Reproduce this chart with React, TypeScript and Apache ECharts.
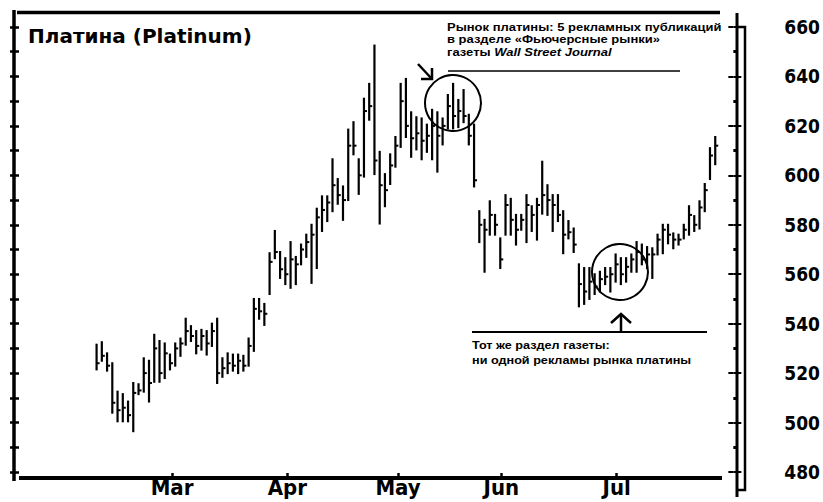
import React, { useEffect, useRef } from "react";
import * as echarts from "echarts";

// Daily platinum bars (trading-day index 0..118), prices in $/oz
const highs = [
  531.5, 532.5, 528, 524, 512.5, 511.5, 508.5, 516, 515.5, 526,
  525, 535.5, 533, 532, 527.5, 532, 534, 542, 539, 537,
  537.5, 537, 540, 542, 526, 528, 527.5, 527.5, 527, 534,
  550, 550, 548, 568.5, 577.5, 569, 566.5, 573, 567, 572,
  576, 580, 586.5, 591.5, 591.5, 606.5, 598.5, 595.5, 618.5, 621.5,
  606.5, 631, 637, 652.5, 609.5, 600.5, 608.5, 615.5, 637, 639,
  625.5, 623.5, 623, 620.5, 626.5, 625.5, 623, 632.5, 637, 630.5,
  634.5, 624.5, 620.5, 585.5, 582, 589.5, 584, 574.5, 592, 590.5,
  584, 584, 592, 587.5, 590.5, 605.5, 596, 592, 592, 585.5,
  581.5, 578.5, 564, 562.5, 562.5, 560, 561, 562.5, 562.5, 568,
  566.5, 566.5, 568, 573, 572, 571, 570.5, 576, 580, 580,
  576.5, 576, 580, 587.5, 583.5, 589.5, 596.5, 611, 615.5,
];
const lows = [
  521.5, 525, 521, 504, 500.5, 500.5, 500.5, 496.5, 511.5, 512.5,
  508.5, 516.5, 516.5, 518, 521.5, 523, 527, 531.5, 533, 528,
  529.5, 527.5, 531, 516, 518.5, 520, 521, 520, 521, 523,
  529, 542, 539.5, 552, 566.5, 558.5, 556, 554.5, 556, 564,
  567, 556.5, 562.5, 577.5, 581.5, 585.5, 588.5, 582, 590, 608.5,
  592.5, 599.5, 622.5, 600.5, 580.5, 587.5, 596.5, 603.5, 611.5, 615.5,
  607.5, 610.5, 606.5, 609.5, 606.5, 601.5, 612.5, 619, 619, 619.5,
  621.5, 612.5, 595.5, 573, 561, 576, 576, 562.5, 576, 576,
  572, 578, 573, 577.5, 574, 584.5, 584, 577.5, 581.5, 568.5,
  574.5, 569, 547, 548, 550, 552, 553, 556, 553, 557,
  556, 557, 561, 561, 564, 562.5, 558.5, 568, 568.5, 572.5,
  570.5, 572, 574.5, 576, 577.5, 578.5, 585.5, 598.5, 604.5,
];
const closes = [
  524, 527, 523, 508, 505, 506, 503, 512, 513, 520,
  516, 530, 520, 528, 524, 530, 532, 537, 535, 531,
  535, 532, 537, 520, 522, 524, 523, 525, 523, 531,
  546, 545, 544, 565, 569, 562, 560, 566, 564, 570,
  573, 576, 583, 586, 589, 596, 592, 590, 612, 612,
  600, 626, 628, 606, 596, 594, 604, 612, 630, 620,
  615, 617, 614, 616, 620, 616, 620, 628, 624, 626,
  624, 616, 598, 580, 578, 584, 580, 566, 588, 582,
  578, 582, 588, 584, 588, 592, 590, 588, 584, 576,
  577, 572, 556, 553, 557, 555, 558, 559, 560, 564,
  560, 563, 566, 569, 566, 568, 568, 574, 578, 576,
  574, 574, 578, 584, 580, 587, 594, 608, 612,
];

// Month boundaries on the trading-day index scale, and their labels
const monthNames = ["Mar", "Apr", "May", "Jun", "Jul"];
const monthStartIdx = [14.4, 36.4, 57.5, 77.2, 99.2];

// Price axis
const priceMin = 480;
const priceMax = 660;
const priceStep = 20;

const titleText = "Платина (Platinum)";
const note1Lines = [
  "Рынок платины: 5 рекламных публикаций",
  "в разделе «Фьючерсные рынки»",
];
const note1Last = ["газеты ", "Wall Street Journal"];
const note2Lines = ["Тот же раздел газеты:", "ни одной рекламы рынка платины"];

const BLACK = "#000";
const NOTE_FONT = 'bold 11.5px "Liberation Sans", Arial, sans-serif';
const AXIS_FONT = '"DejaVu Sans Condensed", "Liberation Sans", sans-serif';

export default function App() {
  const ref = useRef<HTMLDivElement | null>(null);

  useEffect(() => {
    if (!ref.current) return;
    const chart = echarts.init(ref.current, null, { renderer: "svg" });

    const data = highs.map((h, i) => [i, lows[i], h, closes[i]]);

    const ln = (x1: number, y1: number, x2: number, y2: number, w: number) => ({
      type: "line",
      shape: { x1, y1, x2, y2 },
      style: { stroke: BLACK, lineWidth: w },
      silent: true,
    });
    const pl = (pts: number[][], w: number) => ({
      type: "polyline",
      shape: { points: pts },
      style: { stroke: BLACK, lineWidth: w, fill: "none" },
      silent: true,
    });
    const txt = (
      x: number,
      y: number,
      text: string,
      font: string,
      sx = 1,
      extra: any = {}
    ) => ({
      type: "text",
      x,
      y,
      scaleX: sx,
      style: { text, font, fill: BLACK, align: "left", verticalAlign: "middle", ...extra },
      silent: true,
    });

    const tickAxisCommon = {
      type: "value",
      min: priceMin,
      max: priceMax,
      axisLine: { show: false, onZero: false },
      axisLabel: { show: false },
      splitLine: { show: false },
    };

    const option: any = {
      animation: false,
      backgroundColor: "#fff",
      grid: { left: 14, right: 86, top: 27, bottom: 30, containLabel: false },
      xAxis: {
        type: "value",
        min: -15.75,
        max: 121.45,
        offset: 6,
        axisLine: { show: false, onZero: false },
        splitLine: { show: false },
        axisTick: {
          show: true,
          inside: true,
          length: 5,
          customValues: monthStartIdx,
          lineStyle: { color: BLACK, width: 2.5 },
        },
        axisLabel: {
          show: true,
          customValues: monthStartIdx,
          margin: -2,
          formatter: (v: number) => {
            const k = monthStartIdx.indexOf(v);
            return k >= 0 ? monthNames[k] : "";
          },
          color: BLACK,
          fontFamily: AXIS_FONT,
          fontWeight: "bold",
          fontSize: 22,
        },
      },
      yAxis: [
        {
          type: "value",
          position: "right",
          min: priceMin,
          max: priceMax,
          interval: priceStep,
          axisLine: { show: false, onZero: false },
          splitLine: { show: false },
          axisTick: { show: true, inside: false, length: 8, lineStyle: { color: BLACK, width: 2 } },
          minorTick: { show: true, splitNumber: 2, length: 3, lineStyle: { color: BLACK, width: 3 } },
          axisLabel: {
            show: true,
            margin: 51,
            color: BLACK,
            fontFamily: AXIS_FONT,
            fontWeight: "bold",
            fontSize: 19,
          },
        },
        {
          ...tickAxisCommon,
          position: "right",
          interval: priceStep,
          axisTick: { show: true, inside: true, length: 5, lineStyle: { color: BLACK, width: 2 } },
        },
        {
          ...tickAxisCommon,
          position: "left",
          interval: priceStep / 2,
          axisTick: { show: true, inside: false, length: 4, lineStyle: { color: BLACK, width: 2.5 } },
        },
        {
          ...tickAxisCommon,
          position: "left",
          interval: priceStep / 2,
          axisTick: { show: true, inside: true, length: 5, lineStyle: { color: BLACK, width: 2.5 } },
        },
      ],
      series: [
        {
          type: "custom",
          xAxisIndex: 0,
          yAxisIndex: 0,
          encode: { x: 0, y: [1, 2, 3] },
          data,
          renderItem: (_params: any, api: any) => {
            const i = api.value(0);
            const pLo = api.coord([i, api.value(1)]);
            const pHi = api.coord([i, api.value(2)]);
            const pCl = api.coord([i, api.value(3)]);
            return {
              type: "group",
              children: [
                {
                  type: "line",
                  shape: { x1: pHi[0], y1: pHi[1] - 1, x2: pLo[0], y2: pLo[1] + 1 },
                  style: { stroke: BLACK, lineWidth: 2.2 },
                },
                {
                  type: "line",
                  shape: { x1: pCl[0], y1: pCl[1], x2: pCl[0] + 3, y2: pCl[1] },
                  style: { stroke: BLACK, lineWidth: 2 },
                },
              ],
            };
          },
        },
      ],
      graphic: [
        // frame
        ln(14, 10, 14, 481, 3.5),
        ln(17, 12.5, 720, 12.5, 3.5),
        ln(19, 478, 722, 478, 4),
        ln(737, 13, 737, 497, 3),
        pl([[737, 27], [745, 27], [745, 490], [737, 490]], 2.5),
        // title
        txt(28, 36, titleText, 'bold 20px "DejaVu Sans", sans-serif'),
        // note 1
        txt(447, 27, note1Lines[0], NOTE_FONT, 1.13),
        txt(447, 39.5, note1Lines[1], NOTE_FONT, 1.13),
        txt(447, 52, note1Last[0] + "{i|" + note1Last[1] + "}", NOTE_FONT, 1.13, {
          rich: { i: { font: 'italic bold 11.5px "Liberation Sans", Arial, sans-serif' } },
        }),
        ln(448, 71, 680, 71, 1.5),
        pl([[418, 64], [432, 79]], 2.5),
        pl([[421, 79], [432, 79], [432, 68]], 2.5),
        {
          type: "circle",
          shape: { cx: 453, cy: 103, r: 28 },
          style: { fill: "none", stroke: BLACK, lineWidth: 2 },
          silent: true,
        },
        // note 2
        {
          type: "circle",
          shape: { cx: 620, cy: 272, r: 28 },
          style: { fill: "none", stroke: BLACK, lineWidth: 2 },
          silent: true,
        },
        ln(621, 314, 621, 332, 2.5),
        pl([[611, 323], [621, 314], [631, 323]], 2.5),
        ln(472, 332, 707, 332, 2),
        txt(472, 345, note2Lines[0], NOTE_FONT, 1.1),
        txt(472, 360, note2Lines[1], NOTE_FONT, 1.1),
      ],
    };

    chart.setOption(option);
    return () => chart.dispose();
  }, []);

  return (
    <div
      ref={ref}
      style={{ position: "fixed", left: 0, top: 0, width: 823, height: 502, background: "#fff" }}
    />
  );
}
